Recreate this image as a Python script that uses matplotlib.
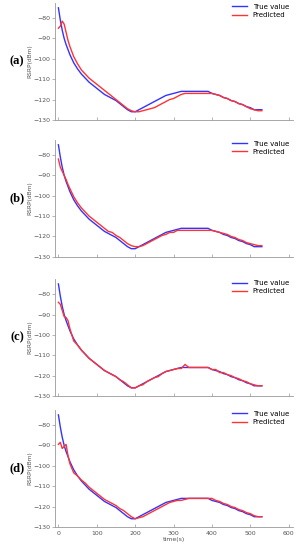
import numpy as np
import matplotlib
matplotlib.use("Agg")
import matplotlib.pyplot as plt

# time axis (s)
t = [0, 5, 10, 15, 20, 25, 30, 40, 50, 60, 70, 80, 90, 100, 110, 120, 130, 140,
     150, 160, 170, 180, 190, 200, 210, 220, 230, 240, 250, 260, 270, 280, 290,
     300, 310, 320, 330, 340, 350, 360, 370, 380, 390, 400, 410, 420, 430, 440,
     450, 460, 470, 480, 490, 500, 510, 520, 530]

true_value = [-75, -81, -86, -90, -93, -95.5, -98, -102, -105, -107.5, -109.5, -111.5,
              -113, -114.5, -116, -117.5, -118.5, -119.5, -120.5, -122, -123.5, -125,
              -126, -126, -125, -124, -123, -122, -121, -120, -119, -118, -117.5,
              -117, -116.5, -116, -116, -116, -116, -116, -116, -116, -116, -117,
              -117.5, -118, -119, -119.5, -120.5, -121, -122, -122.5, -123.5, -124,
              -125, -125, -125]

pred_a = [-85, -84, -81.5, -83, -87, -91, -94, -99, -102.5, -105.5, -107.5, -109.5,
          -111, -112.5, -114, -115.5, -117, -118.5, -120, -121.5, -123, -124.5,
          -125.5, -126, -126, -125.5, -125, -124.5, -124, -123, -122, -121, -120,
          -119.5, -118.5, -117.5, -117, -117, -117, -117, -117, -117, -117, -117,
          -117.5, -118, -119, -119.5, -120.5, -121, -122, -122.5, -123.5, -124.5,
          -125, -125.5, -125.5]

pred_b = [-82, -86, -88, -90, -92, -94.5, -96.5, -100.5, -103.5, -106, -108, -110,
          -111.5, -113, -114.5, -116, -117.5, -118, -119.5, -120.5, -122, -123.5,
          -124.5, -125, -125, -124.5, -123.5, -122.5, -121.5, -120.5, -119.5, -119,
          -118, -118, -117, -117, -117, -117, -117, -117, -117, -117, -117, -117,
          -117.5, -118, -118.5, -119, -120, -120.5, -121.5, -122, -123, -123.5,
          -124, -124.5, -124.5]

pred_c = [-84, -85, -88, -91, -91.5, -93, -97, -103, -105, -107.5, -109.5, -111.5,
          -113, -114.5, -116, -117.5, -118.5, -119.5, -120.5, -122, -123, -124.5,
          -126, -126, -125, -124.5, -123, -122, -121, -120.5, -119, -118, -117.5,
          -117, -116.5, -116.5, -114.5, -116, -116, -116, -116, -116, -116, -117,
          -117, -118.5, -118.5, -119.5, -120, -121, -121.5, -122.5, -123, -124,
          -124.5, -125, -125]

pred_d = [-89.5, -88.5, -91.5, -90.5, -89.5, -95, -99, -103.5, -105, -107, -108.5,
          -110.5, -112, -113.5, -115, -116.5, -117.5, -118.5, -119.5, -121, -122,
          -123.5, -125, -126, -125.5, -125, -124, -123, -122, -121, -120, -119,
          -118, -117.5, -117, -117, -116.5, -116, -116, -116, -116, -116, -116,
          -116, -117, -117.5, -118.5, -119, -120, -120.5, -121.5, -122, -123,
          -123.5, -124.5, -125, -125]

panels = ["(a)", "(b)", "(c)", "(d)"]
predictions = [pred_a, pred_b, pred_c, pred_d]
bottoms = [0.782, 0.533, 0.280, 0.042]

fig = plt.figure(figsize=(2.97, 5.5), dpi=100)

for label, pred, b in zip(panels, predictions, bottoms):
    ax = fig.add_axes([0.185, b, 0.80, 0.213])
    ax.plot(t, true_value, color="#3333ff", lw=1.0, label="True value")
    ax.plot(t, pred, color="#ff3333", lw=1.0, label="Predicted")
    ax.set_xlim(-9, 610)
    ax.set_ylim(-130, -72.5)
    ax.set_yticks([-80, -90, -100, -110, -120, -130])
    ax.set_xticks([0, 100, 200, 300, 400, 500, 600])
    ax.spines["top"].set_visible(False)
    ax.spines["right"].set_visible(False)
    for s in ["left", "bottom"]:
        ax.spines[s].set_color("#999999")
        ax.spines[s].set_linewidth(0.6)
    ax.tick_params(axis="x", direction="in", length=2, width=0.5,
                   colors="#999999", labelcolor="#555555", labelsize=4.5, pad=3)
    ax.tick_params(axis="y", direction="out", length=2, width=0.5,
                   colors="#999999", labelcolor="#555555", labelsize=4.5, pad=1.5)
    if label != "(d)":
        ax.tick_params(axis="x", labelbottom=False)
    else:
        ax.set_xlabel("time(s)", fontsize=4.5, color="#555555", labelpad=1)
    ax.set_ylabel("RSRP(dBm)", fontsize=4.2, color="#555555", labelpad=0.5)
    ax.legend(loc="upper right", fontsize=5, frameon=False, handlelength=2.2,
              borderaxespad=0.1, labelspacing=0.3, bbox_to_anchor=(1.0, 1.02))
    fig.text(0.058, b + 0.107, label, fontsize=9, family="Liberation Serif",
             ha="center", va="center", fontweight="bold")

plt.savefig("out.png", dpi=100)
